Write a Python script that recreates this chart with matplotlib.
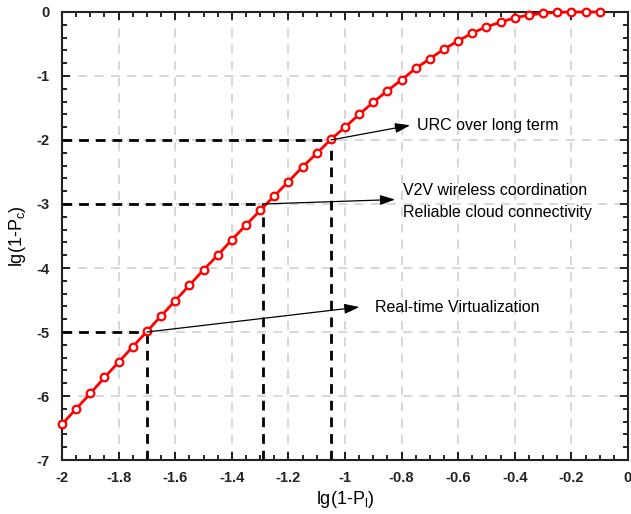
import matplotlib
matplotlib.use("Agg")
import matplotlib.pyplot as plt
from matplotlib.ticker import MultipleLocator, FuncFormatter

plt.rcParams['font.family'] = ['Liberation Sans', 'DejaVu Sans']
plt.rcParams['axes.unicode_minus'] = False
plt.rcParams['mathtext.fontset'] = 'custom'
plt.rcParams['mathtext.rm'] = 'Liberation Sans'
plt.rcParams['mathtext.it'] = 'Liberation Sans'

# lg(1-P_l) samples and the resulting lg(1-P_c)
lg_pl = [-2.00, -1.95, -1.90, -1.85, -1.80, -1.75, -1.70, -1.65, -1.60, -1.55,
         -1.50, -1.45, -1.40, -1.35, -1.30, -1.25, -1.20, -1.15, -1.10, -1.05,
         -1.00, -0.95, -0.90, -0.85, -0.80, -0.75, -0.70, -0.65, -0.60, -0.55,
         -0.50, -0.45, -0.40, -0.35, -0.30, -0.25, -0.20, -0.15, -0.10]
lg_pc = [-6.44, -6.20, -5.96, -5.71, -5.47, -5.23, -4.99, -4.75, -4.51, -4.27,
         -4.03, -3.80, -3.56, -3.33, -3.10, -2.875, -2.65, -2.42, -2.21, -1.99,
         -1.80, -1.60, -1.41, -1.23, -1.06, -0.88, -0.73, -0.58, -0.45, -0.33,
         -0.23, -0.16, -0.09, -0.05, -0.02, -0.005, 0.0, 0.0, 0.0]

# reliability requirements: (x on curve, y level, label, arrow tip, text position)
req_x = [-1.05, -1.29, -1.70]
req_y = [-2.0, -3.0, -5.0]
req_labels = ["URC over long term",
              "V2V wireless coordination\nReliable cloud connectivity",
              "Real-time Virtualization"]
tip_xy = [(-0.770, -1.77), (-0.823, -2.93), (-0.949, -4.61)]
text_xy = [(-0.745, -1.77), (-0.795, -2.96), (-0.895, -4.61)]

fig = plt.figure(figsize=(6.31, 5.14), dpi=100)
ax = fig.add_axes([0.0983, 0.105, 0.8969, 0.8717])

ax.set_xlim(-2, 0)
ax.set_ylim(-7, 0)

ax.grid(True, which='major', color='#d4d4d4', linestyle=(0, (5, 4)), linewidth=1.3)
ax.set_axisbelow(True)

# requirement guide lines
for x0, y0 in zip(req_x, req_y):
    ax.plot([-2, x0], [y0, y0], color='black', linestyle=(0, (3.5, 2.5)), linewidth=2.0, zorder=2)
    ax.plot([x0, x0], [-7, y0], color='black', linestyle=(0, (3.5, 2.5)), linewidth=2.0, zorder=2)

ax.plot(lg_pl, lg_pc, color='red', linewidth=2.0, marker='o', markersize=5.5,
        markerfacecolor='white', markeredgecolor='red', markeredgewidth=1.6,
        zorder=3, clip_on=False)

for x0, y0, lab, tip, txy in zip(req_x, req_y, req_labels, tip_xy, text_xy):
    ax.annotate("", xy=tip, xytext=(x0, y0),
                arrowprops=dict(arrowstyle='-|>,head_length=0.9,head_width=0.3',
                                color='black', linewidth=0.9, shrinkA=0, shrinkB=0),
                zorder=4)
    ax.text(txy[0], txy[1], lab, fontsize=11.5, ha='left', va='center',
            linespacing=1.55, zorder=4)

ax.xaxis.set_major_locator(MultipleLocator(0.2))
ax.xaxis.set_minor_locator(MultipleLocator(0.05))
ax.yaxis.set_major_locator(MultipleLocator(1))
ax.yaxis.set_minor_locator(MultipleLocator(0.2))
fmt = FuncFormatter(lambda v, p: "%g" % round(v, 2) if abs(v) > 1e-9 else "0")
ax.xaxis.set_major_formatter(fmt)
ax.yaxis.set_major_formatter(fmt)

ax.tick_params(which='both', direction='in', top=True, right=True, width=1.2, colors='black')
ax.tick_params(which='major', length=6, labelsize=10.5)
ax.tick_params(axis='x', which='major', pad=8)
ax.tick_params(axis='y', which='major', pad=9)
ax.tick_params(which='minor', length=3.5)
for lab in ax.get_xticklabels() + ax.get_yticklabels():
    lab.set_fontweight('bold')
    lab.set_color('#222222')

for sp in ax.spines.values():
    sp.set_linewidth(1.5)
    sp.set_color('#222222')

ax.set_xlabel("lg(1-P$_\\mathregular{l}$)", fontsize=13, labelpad=3)
ax.set_ylabel("lg(1-P$_\\mathregular{c}$)", fontsize=13, labelpad=6)

fig.savefig("out.png", dpi=100)
